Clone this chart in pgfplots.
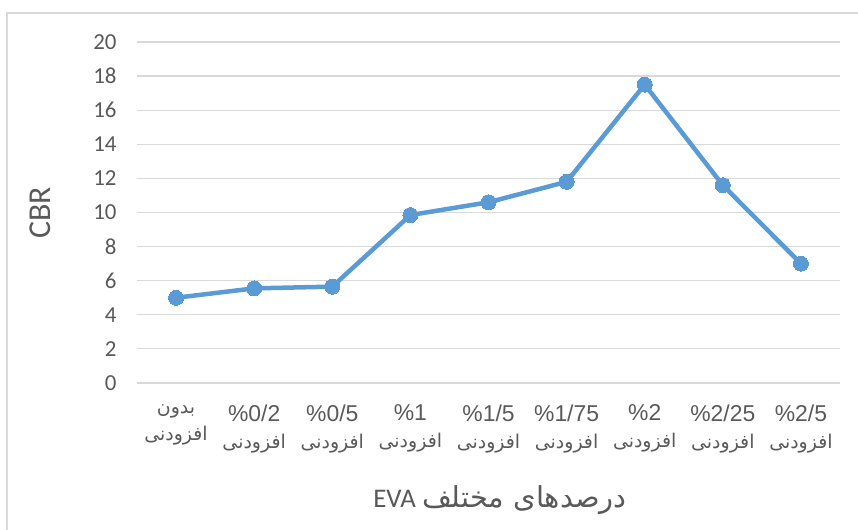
\documentclass[border=0pt]{standalone}
\usepackage{fontspec}
\usepackage{pgfplots}
\pgfplotsset{compat=1.18}
\setmainfont{Carlito}
\newfontfamily\arabicfont[Script=Arabic]{DejaVu Sans}
\newfontfamily\latinlab{Liberation Sans}
\TeXXeTstate=1
\definecolor{lineblue}{RGB}{91,155,213}
\definecolor{gridgray}{RGB}{217,217,217}
\definecolor{txtgray}{RGB}{89,89,89}
\newcommand{\fa}[1]{{\arabicfont\fontsize{19}{27}\selectfont\beginR #1\endR}}
\newcommand{\la}[1]{{\latinlab\fontsize{23}{27}\selectfont #1}}
\begin{document}
\begin{tikzpicture}[x=1bp,y=1bp]
\useasboundingbox (0,0) rectangle (858,530);
\draw[gridgray, line width=1.2bp] (7,-10) -- (7,517) -- (870,517);
\begin{axis}[
  at={(137bp,147bp)}, anchor=south west,
  scale only axis, width=703bp, height=341bp,
  xmin=-0.5, xmax=8.5, ymin=0, ymax=20,
  ytick={0,2,...,20},
  xtick={0,...,8},
  xticklabels={
    {\fa{بدون}\\\fa{افزودنی}},
    {\la{\%0/2}\\\fa{افزودنی}},
    {\la{\%0/5}\\\fa{افزودنی}},
    {\la{\%1}\\\fa{افزودنی}},
    {\la{\%1/5}\\\fa{افزودنی}},
    {\la{\%1/75}\\\fa{افزودنی}},
    {\la{\%2}\\\fa{افزودنی}},
    {\la{\%2/25}\\\fa{افزودنی}},
    {\la{\%2/5}\\\fa{افزودنی}}},
  axis line style={draw=none},
  major tick length=0pt,
  ymajorgrids, grid style={gridgray, line width=1.2bp},
  /pgf/number format/assume math mode=true,
  yticklabel style={font=\fontsize{23}{23}\selectfont, text=txtgray, xshift=-17bp},
  xticklabel style={font=\fontsize{19}{27}\selectfont, text=txtgray, align=center, anchor=north, yshift=-18bp},
  clip=false,
]
\addplot[color=lineblue, line width=4.5bp, mark=*, mark size=7.5bp, mark options={fill=lineblue, draw=lineblue, line width=0pt}]
  coordinates {(0,5.0) (1,5.55) (2,5.65) (3,9.85) (4,10.6) (5,11.8) (6,17.5) (7,11.6) (8,7.0)};
\end{axis}
\node[rotate=90, text=txtgray, font=\fontsize{32}{32}\selectfont] at (40,317) {CBR};
\node[text=txtgray, font=\fontsize{27}{27}\selectfont] at (500,30) {EVA {\arabicfont\fontsize{29}{29}\selectfont\beginR درصدهای مختلف\endR}};
\end{tikzpicture}
\end{document}
